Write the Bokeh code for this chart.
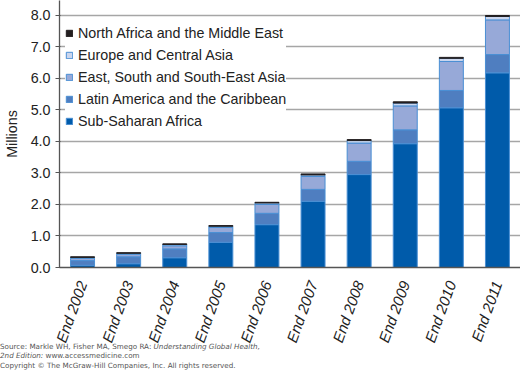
from bokeh.plotting import figure
from bokeh.models import (Range1d, FixedTicker, NumeralTickFormatter, Legend, LegendItem, Div,
                          ColumnDataSource)
from bokeh.layouts import column
from bokeh.embed import file_html
from bokeh.resources import INLINE

years = ["End 2002", "End 2003", "End 2004", "End 2005", "End 2006",
         "End 2007", "End 2008", "End 2009", "End 2010", "End 2011"]
sub_saharan = [0.07, 0.12, 0.31, 0.80, 1.36, 2.10, 2.95, 3.93, 5.07, 6.18]
latin_america = [0.15, 0.22, 0.28, 0.31, 0.36, 0.38, 0.42, 0.44, 0.55, 0.58]
east_asia = [0.07, 0.08, 0.10, 0.16, 0.28, 0.41, 0.58, 0.76, 0.92, 1.10]
europe_ca = [0.03, 0.03, 0.04, 0.04, 0.05, 0.05, 0.08, 0.09, 0.10, 0.11]
north_africa_me = [0.02, 0.02, 0.02, 0.02, 0.02, 0.03, 0.03, 0.04, 0.03, 0.03]

series_names = ["Sub-Saharan Africa", "Latin America and the Caribbean",
                "East, South and South-East Asia", "Europe and Central Asia",
                "North Africa and the Middle East"]
keys = ["ssa", "lac", "esa", "eca", "name"]
colors = ["#005BAA", "#4F7EC0", "#97A9D8", "#CBD6EE", "#231F20"]
y_ticks = [0, 1, 2, 3, 4, 5, 6, 7, 8]

FONT = "Liberation Sans"
FS = "14.3px"

source = ColumnDataSource(dict(years=years, ssa=sub_saharan, lac=latin_america,
                               esa=east_asia, eca=europe_ca, name=north_africa_me))

p = figure(x_range=years, y_range=Range1d(0, 8.476), width=520, height=350,
           output_backend="svg", toolbar_location=None,
           min_border_left=0, min_border_right=0, min_border_top=0, min_border_bottom=0)
p.outline_line_color = None
p.background_fill_color = "white"

renderers = p.vbar_stack(keys, x="years", width=0.52, source=source, color=colors,
                         line_color="#4A8FD4", line_width=1)
renderers[-1].glyph.line_color = "#231F20"

p.xgrid.grid_line_color = None
p.ygrid.grid_line_color = "#A6A6A6"
p.ygrid.grid_line_width = 1.3
p.ygrid.ticker = FixedTicker(ticks=y_ticks)

ya = p.yaxis[0]
ya.ticker = FixedTicker(ticks=y_ticks)
ya.formatter = NumeralTickFormatter(format="0.0")
ya.axis_label = "Millions"
ya.axis_label_text_font = FONT
ya.axis_label_text_font_style = "normal"
ya.axis_label_text_font_size = FS
ya.axis_label_text_color = "#222222"
ya.axis_label_standoff = 8
ya.major_label_text_font = FONT
ya.major_label_text_font_size = FS
ya.major_label_text_color = "#222222"
ya.major_label_standoff = 5
ya.major_tick_out = 4
ya.major_tick_in = 1
ya.minor_tick_line_color = None
ya.axis_line_color = "#555555"
ya.axis_line_width = 1.3
ya.major_tick_line_color = "#555555"

xa = p.xaxis[0]
xa.major_label_orientation = 1.22
xa.major_label_text_font = FONT
xa.major_label_text_font_style = "italic"
xa.major_label_text_font_size = "15px"
xa.major_label_text_color = "#222222"
xa.major_tick_line_color = None
xa.axis_line_color = "#555555"
xa.axis_line_width = 1.3
xa.major_label_standoff = 8

items = [LegendItem(label=series_names[i], renderers=[renderers[i]]) for i in range(4, -1, -1)]
legend = Legend(items=items, location=(6, 138))
legend.border_line_color = None
legend.background_fill_color = "white"
legend.background_fill_alpha = 1.0
legend.margin = 0
legend.padding = 6
legend.spacing = 6
legend.glyph_width = 8
legend.glyph_height = 8
legend.label_height = 16
legend.label_standoff = 5
legend.label_text_font = FONT
legend.label_text_font_size = FS
legend.label_text_color = "#222222"
p.add_layout(legend)

footer = Div(text=(
    "<div style=\"font-family:'DejaVu Sans';font-size:7.2px;line-height:8.5px;color:#555555;\">"
    "Source: Markle WH, Fisher MA, Smego RA: <i>Understanding Global Health,</i><br>"
    "<i>2nd Edition:</i> www.accessmedicine.com<br>"
    "<div style=\"margin-top:1.5px;\">Copyright &copy; The McGraw-Hill Companies, Inc. All rights reserved.</div>"
    "</div>"), width=520, height=27, margin=(-7, 0, 0, 0))

layout = column(p, footer, spacing=0)
open("out.html", "w").write(file_html(layout, INLINE))
